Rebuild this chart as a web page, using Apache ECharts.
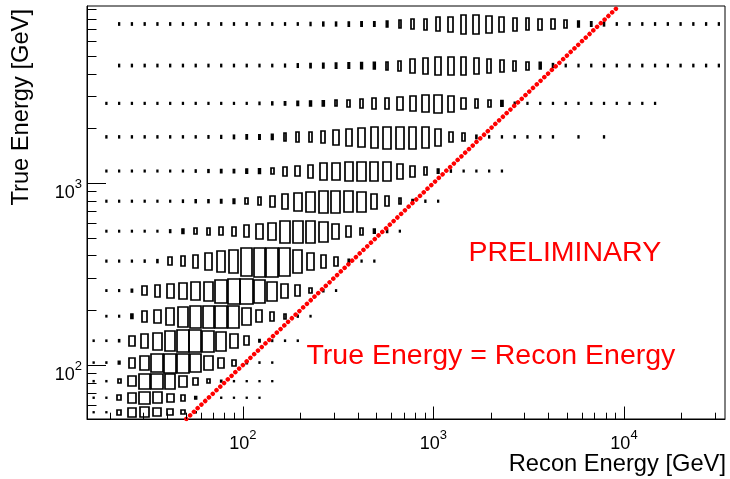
<!DOCTYPE html>
<html><head><meta charset="utf-8">
<script src="https://cdn.jsdelivr.net/npm/echarts@6/dist/echarts.min.js"></script>
<style>html,body{margin:0;padding:0;background:#fff;}#c{width:730px;height:479px;}</style>
</head><body><div id="c"></div>
<script>
// Recon energy bin edges [GeV] (50 log-spaced bins)
const xEdges = [15.20,17.74,20.69,24.14,28.17,32.86,38.34,44.73,52.19,60.89,71.04,82.87,96.69,112.8,131.6,153.6,179.2,209.0,243.9,284.6,332.0,387.3,451.9,527.3,615.2,717.8,837.4,977.0,1140,1330,1551,1810,2112,2464,2875,3354,3913,4566,5327,6216,7252,8461,9872,11518,13438,15678,18292,21342,24900,29051,33894];
// True energy bin edges [GeV]
const yEdges = [50.5,59.5,72.7,90.3,116,156,215,298,447,641,949,1380,2208,3276,5575,9400];
// first filled recon bin of each true-energy row (bottom row first)
const rowFirstBin = [0,0,0,0,0,1,1,1,1,1,1,1,1,2,2];
// box size (% of bin) per row, bottom row first
const boxRow00 = [7,7,37,66,76,62,48,30,10];
const boxRow01 = [7,7,32,67,80,70,55,35,17,8,7,6,6,6];
const boxRow02 = [7,7,22,60,85,92,82,64,42,26,11,7,6,6,6];
const boxRow03 = [6,7,15,50,75,92,95,95,92,72,50,30,12,7,6];
const boxRow04 = [6,6,10,42,56,74,85,94,94,92,80,58,38,12,7,6,6];
const boxRow05 = [6,7,18,42,53,67,78,85,87,88,85,67,47,35,20,8,6];
const boxRow06 = [6,7,12,35,45,55,62,70,75,88,95,95,88,75,55,42,22,10,6];
const boxRow07 = [6,6,6,7,10,27,33,42,52,67,72,88,90,90,88,72,55,42,28,12,6,6];
const boxRow08 = [6,6,6,6,6,10,17,22,25,28,33,42,50,60,78,78,76,70,55,38,25,16,10,6];
const boxRow09 = [6,6,6,6,6,6,8,10,10,12,15,20,27,38,50,60,67,70,70,68,65,50,33,20,12,7,6];
const boxRow10 = [6,6,6,6,6,6,6,8,10,12,12,15,17,20,30,36,45,55,60,63,65,65,62,50,38,27,15,8,6,6,6,6];
const boxRow11 = [6,6,6,6,6,6,6,6,7,8,10,12,13,15,20,25,28,32,40,45,50,57,60,60,60,55,45,28,20,10,6,6,6,6,6,6,0,6,0,6];
const boxRow12 = [6,6,6,6,6,6,6,6,6,6,6,6,8,10,12,14,17,18,20,23,28,34,38,43,48,55,57,52,38,29,23,19,8,6,6,6,6,6,6,6,6,6,6,6];
const boxRow13 = [6,6,6,6,6,6,6,6,6,6,6,6,6,7,9,11,12,13,14,16,17,20,25,33,38,42,43,43,40,35,29,25,20,17,10,6,6,6,6,6,6,6,6,6,6,6,6,6];
const boxRow14 = [6,6,6,6,6,6,6,6,6,6,6,6,6,6,6,8,10,10,11,12,12,15,20,25,28,35,38,45,45,42,38,33,30,27,25,20,15,12,10,6,6,6,6,6,6,6,6,6];
const boxRows = [boxRow00,boxRow01,boxRow02,boxRow03,boxRow04,boxRow05,boxRow06,boxRow07,boxRow08,boxRow09,boxRow10,boxRow11,boxRow12,boxRow13,boxRow14];

const xMajorTicks = [100,1000,10000];
const xMinorTicks = [20,30,40,50,60,70,80,90,200,300,400,500,600,700,800,900,2000,3000,4000,5000,6000,7000,8000,9000,20000,30000];
const yMajorTicks = [100,1000];
const yMinorTicks = [60,70,80,90,200,300,400,500,600,700,800,900,2000,3000,4000,5000,6000,7000,8000,9000];
const diagonal = [[50.5,50.5],[9400,9400]];

const X_MIN = xEdges[0], X_MAX = xEdges[xEdges.length-1];
const Y_MIN = yEdges[0], Y_MAX = yEdges[yEdges.length-1];
const FONT = 'Liberation Sans';

const boxData = [];
boxRows.forEach((row, r) => {
  row.forEach((s, k) => {
    const b = rowFirstBin[r] + k;
    if (s > 0) boxData.push([xEdges[b], xEdges[b+1], yEdges[r], yEdges[r+1], s]);
  });
});

function renderBox(params, api) {
  const x0 = api.value(0), x1 = api.value(1), y0 = api.value(2), y1 = api.value(3), s = api.value(4) / 100;
  const xc = (x0 + x1) / 2, hx = (x1 - x0) / 2 * s;
  const yc = (y0 + y1) / 2, hy = (y1 - y0) / 2 * s;
  const pA = api.coord([xc - hx, yc - hy]);
  const pB = api.coord([xc + hx, yc + hy]);
  let x = Math.min(pA[0], pB[0]), y = Math.min(pA[1], pB[1]);
  let w = Math.abs(pB[0] - pA[0]), h = Math.abs(pB[1] - pA[1]);
  const tiny = (w < 2.5 || h < 2.5);
  if (tiny) {
    if (w < 1) { x -= (1 - w) / 2; w = 1; }
    if (h < 1) { y -= (1 - h) / 2; h = 1; }
    return { type: 'rect', shape: { x: x, y: y, width: w, height: h },
      style: { fill: '#000', stroke: '#000', lineWidth: 1.3 } };
  }
  const xa = Math.round(x), ya = Math.round(y);
  const xb = Math.round(x + w), yb = Math.round(y + h);
  return { type: 'rect', shape: { x: xa, y: ya, width: Math.max(xb - xa, 1), height: Math.max(yb - ya, 1) },
    style: { fill: 'none', stroke: '#000', lineWidth: 1.7 } };
}

function tickSeries(values, axis, len) {
  return {
    type: 'custom', silent: true, z: 10,
    data: values.map(v => axis === 'x' ? [v, Y_MIN] : [X_MIN, v]),
    encode: { x: 0, y: 1 },
    renderItem: function (p, api) {
      const c = api.coord([api.value(0), api.value(1)]);
      if (axis === 'x') {
        const x = Math.round(c[0]) + 0.5;
        return { type: 'line', shape: { x1: x, y1: c[1], x2: x, y2: c[1] - len }, style: { stroke: '#000', lineWidth: 1 } };
      }
      const y = Math.round(c[1]) + 0.5;
      return { type: 'line', shape: { x1: c[0], y1: y, x2: c[0] + len, y2: y }, style: { stroke: '#000', lineWidth: 1 } };
    }
  };
}

function powLabel(v) {
  const e = Math.log10(v), r = Math.round(e);
  if (Math.abs(e - r) > 1e-6) return '';
  return '{b|10}{s|' + r + '}';
}
const richLab = {
  b: { fontSize: 18, lineHeight: 24, verticalAlign: 'bottom', fontFamily: FONT, color: '#000' },
  s: { fontSize: 13, lineHeight: 13, verticalAlign: 'top', fontFamily: FONT, color: '#000' }
};

const chart = echarts.init(document.getElementById('c'), null, { renderer: 'canvas' });
chart.setOption({
  animation: false,
  backgroundColor: '#fff',
  grid: { left: 87, right: 5, top: 6, bottom: 60, show: true, borderColor: '#000', borderWidth: 1 },
  xAxis: {
    type: 'log', logBase: 10, min: X_MIN, max: X_MAX,
    axisLine: { show: true, lineStyle: { color: '#000', width: 1 } },
    axisTick: { show: false }, splitLine: { show: false }, minorTick: { show: false },
    axisLabel: { margin: 10, formatter: powLabel, rich: richLab, showMinLabel: false, showMaxLabel: false }
  },
  yAxis: {
    type: 'log', logBase: 10, min: Y_MIN, max: Y_MAX,
    axisLine: { show: true, lineStyle: { color: '#000', width: 1 } },
    axisTick: { show: false }, splitLine: { show: false }, minorTick: { show: false },
    axisLabel: { margin: 5, padding: [14, 0, 0, 0], formatter: powLabel, rich: richLab, showMinLabel: false, showMaxLabel: false }
  },
  graphic: [
    { type: 'text', x: 9, y: 9, rotation: Math.PI / 2,
      style: { text: 'True Energy [GeV]', fontSize: 23.7, fontFamily: FONT, fill: '#000', align: 'right', verticalAlign: 'top' } },
    { type: 'text', x: 726, y: 464,
      style: { text: 'Recon Energy [GeV]', fontSize: 23.7, fontFamily: FONT, fill: '#000', align: 'right', verticalAlign: 'middle' } },
    { type: 'text', x: 468.5, y: 253.5,
      style: { text: 'PRELIMINARY', fontSize: 28.5, fontFamily: FONT, fill: '#ff0000', align: 'left', verticalAlign: 'middle' } },
    { type: 'text', x: 306.5, y: 356.5,
      style: { text: 'True Energy = Recon Energy', fontSize: 28.5, fontFamily: FONT, fill: '#ff0000', align: 'left', verticalAlign: 'middle' } }
  ],
  series: [
    { type: 'custom', silent: true, data: boxData, encode: { x: [0, 1], y: [2, 3] }, renderItem: renderBox, z: 2 },
    { type: 'line', data: diagonal, symbol: 'none', silent: true, z: 5, clip: true,
      lineStyle: { color: '#ff0000', width: 4.5, type: [0.01, 5.2], cap: 'round' } },
    tickSeries(xMajorTicks, 'x', 12.5),
    tickSeries(xMinorTicks, 'x', 6.3),
    tickSeries(yMajorTicks, 'y', 19),
    tickSeries(yMinorTicks, 'y', 9.5)
  ]
});
</script></body></html>
